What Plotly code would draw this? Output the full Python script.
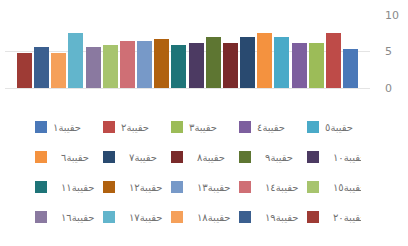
import plotly.graph_objects as go

names = ["حقيبة١", "حقيبة٢", "حقيبة٣", "حقيبة٤", "حقيبة٥",
         "حقيبة٦", "حقيبة٧", "حقيبة٨", "حقيبة٩", "حقيبة١٠",
         "حقيبة١١", "حقيبة١٢", "حقيبة١٣", "حقيبة١٤", "حقيبة١٥",
         "حقيبة١٦", "حقيبة١٧", "حقيبة١٨", "حقيبة١٩", "حقيبة٢٠"]
values = [5.35, 7.6, 6.2, 6.2, 7.0,
          7.6, 7.0, 6.2, 7.0, 6.2,
          5.93, 6.75, 6.45, 6.45, 5.93,
          5.6, 7.6, 4.85, 5.66, 4.85]
colors = ["#4A78B8", "#BE4B48", "#9CBC58", "#7D5F9E", "#4AAAC8",
          "#F4923F", "#294A70", "#7A2A2A", "#5E7632", "#4C3A62",
          "#1E7478", "#B0610F", "#7799C8", "#CF6F75", "#A7C46E",
          "#8A79A0", "#62B5CC", "#F5A05A", "#3B5F8F", "#9E3B35"]
y_ticks = [0, 5, 10]

W, H = 408, 246
ml, mr, mt, mb = 5, 38, 15, 158
plot_h = H - mt - mb
plot_w = W - ml - mr

fig = go.Figure()
legend_ids = ["legend", "legend2", "legend3", "legend4"]
for i, (n, v, c) in enumerate(zip(names, values, colors)):
    fig.add_trace(go.Bar(
        x=[n], y=[v], name=n, marker_color=c, marker_line_width=0,
        legend=legend_ids[i // 5],
    ))

row_px = [127, 157, 187, 217]
leg_font = dict(family="DejaVu Sans", size=10, color="#707070")
legend_x = (21 - ml) / plot_w
layout_legends = {}
for k, lid in enumerate(legend_ids):
    layout_legends[lid] = dict(
        orientation="h", x=legend_x, xanchor="left",
        y=-(row_px[k] - (mt + plot_h)) / plot_h, yanchor="middle",
        entrywidth=23, entrywidthmode="pixels",
        font=leg_font, bgcolor="rgba(0,0,0,0)", traceorder="normal",
    )

fig.update_layout(
    width=W, height=H,
    margin=dict(l=ml, r=mr, t=mt, b=mb, autoexpand=False),
    paper_bgcolor="white", plot_bgcolor="white",
    barmode="stack", bargap=0.13,
    showlegend=True,
    xaxis=dict(
        categoryorder="array", categoryarray=names,
        range=[len(names) - 1 + 1.13, -1.13],
        showticklabels=False, showgrid=False, zeroline=False, showline=False,
    ),
    yaxis=dict(
        side="right", range=[0, 10], tickvals=y_ticks,
        ticktext=[str(t) for t in y_ticks],
        showgrid=True, gridcolor="#E4E4E4", gridwidth=1,
        zeroline=True, zerolinecolor="#E4E4E4", zerolinewidth=1,
        showline=False, ticklabelstandoff=14,
        tickfont=dict(family="DejaVu Sans", size=11, color="#8A8A8A"),
    ),
    **layout_legends,
)

post = """
document.body.style.margin = '0';
var st = document.createElement('style');
st.textContent = '.legend, .legend .scrollbox, .legend .groups, .legend .traces, .legend .legendtext { clip-path: none !important; }';
document.head.appendChild(st);
var gd = document.getElementById('{plot_id}');
function fixLegend() {
  gd.querySelectorAll('.legend [clip-path]').forEach(function (e) {
    e.removeAttribute('clip-path');
  });
  gd.querySelectorAll('.legend .legendtext').forEach(function (t) {
    t.setAttribute('x', 32);
  });
}
fixLegend();
setTimeout(fixLegend, 50);
if (gd.on) { gd.on('plotly_afterplot', fixLegend); }
"""

fig.write_html("out.html", config={"displayModeBar": False}, post_script=post)
